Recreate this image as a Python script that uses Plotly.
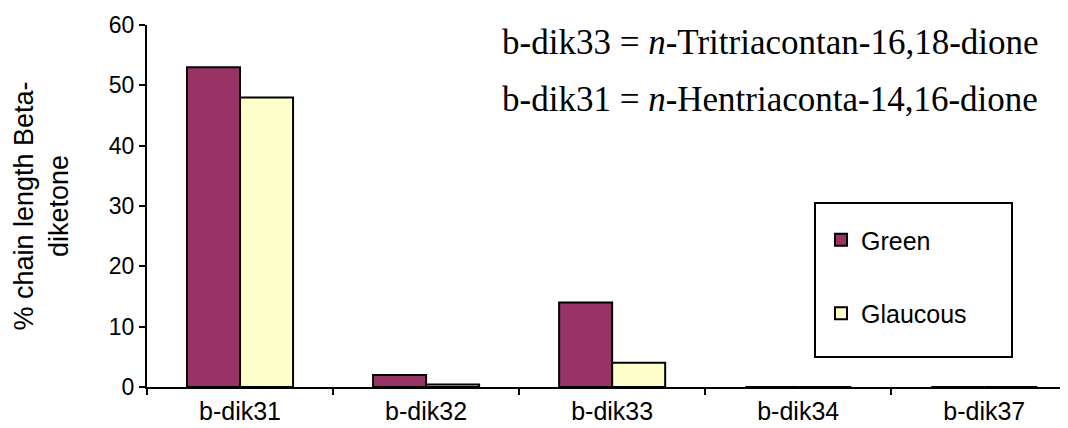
import plotly.graph_objects as go

categories = ["b-dik31", "b-dik32", "b-dik33", "b-dik34", "b-dik37"]
green = [53, 2, 14, 0, 0]
glaucous = [48, 0.4, 4, 0, 0]
y_ticks = [0, 10, 20, 30, 40, 50, 60]

FONT = "Liberation Sans, Arial, sans-serif"
SERIF = "Liberation Serif, Times New Roman, serif"

# page offset (body margin) of 8px
OFF = 8
L, T, B = 147 - OFF, 25 - OFF, 41
W, H = 1068 - OFF, 428 - OFF
PW = 1068 - 147
PH = 387 - 25


def px(x):
    return (x - 147) / PW


def py(y):
    return (387 - y) / PH


fig = go.Figure()
fig.add_trace(go.Bar(x=categories, y=green, name="Green", legendgroup="a",
                     marker=dict(color="#993366", line=dict(color="black", width=2))))
fig.add_trace(go.Bar(x=categories, y=glaucous, name="Glaucous", legendgroup="b",
                     marker=dict(color="#FFFFCC", line=dict(color="black", width=2))))

fig.update_layout(
    width=W, height=H,
    margin=dict(l=L, r=0, t=T, b=B, autoexpand=False),
    paper_bgcolor="white", plot_bgcolor="white",
    barmode="group", bargap=0.43, bargroupgap=0,
    font=dict(family=FONT, color="black", size=22),
    showlegend=True,
    legend=dict(x=px(821), y=py(217), xanchor="left", yanchor="top",
                bgcolor="rgba(0,0,0,0)", borderwidth=0,
                traceorder="grouped", tracegroupgap=38,
                font=dict(family=FONT, size=25, color="black")),
    xaxis=dict(range=[-0.5, 4.45], showline=True, linecolor="black", linewidth=2,
               ticks="outside", tickson="boundaries", ticklen=6, tickwidth=2, tickcolor="black",
               ticklabelstandoff=1, automargin=False,
               tickfont=dict(family=FONT, size=25), showgrid=False, zeroline=False),
    yaxis=dict(range=[0, 60], tickvals=y_ticks, showline=True, linecolor="black", linewidth=2,
               ticks="outside", ticklen=6, tickwidth=2, tickcolor="black",
               tickfont=dict(family=FONT, size=23), showgrid=False, zeroline=False,
               automargin=False,
               title=dict(text="% chain length Beta-<br>diketone", font=dict(family=FONT, size=27),
                          standoff=32)),
    shapes=[dict(type="rect", xref="paper", yref="paper",
                 x0=px(815), x1=px(1012), y0=py(357), y1=py(203),
                 line=dict(color="black", width=2), fillcolor="rgba(0,0,0,0)")],
    annotations=[
        dict(text="b-dik33 = <i>n</i>-Tritriacontan-16,18-dione", xref="paper", yref="paper",
             x=px(770), y=py(43), xanchor="center", yanchor="middle",
             showarrow=False, font=dict(family=SERIF, size=35, color="black")),
        dict(text="b-dik31 = <i>n</i>-Hentriaconta-14,16-dione", xref="paper", yref="paper",
             x=px(770), y=py(100), xanchor="center", yanchor="middle",
             showarrow=False, font=dict(family=SERIF, size=35, color="black")),
    ],
)

fig.write_html("out.html")
